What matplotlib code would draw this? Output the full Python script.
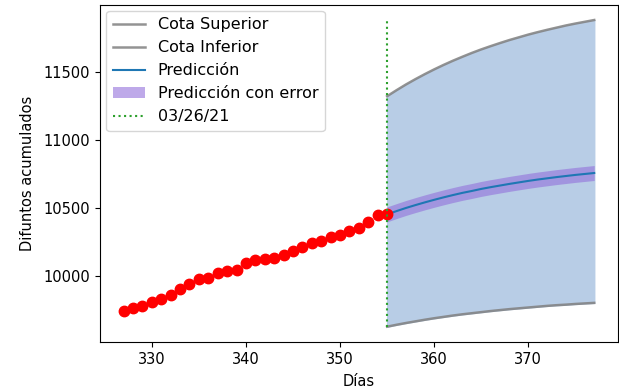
import numpy as np
import matplotlib
matplotlib.use("Agg")
import matplotlib.pyplot as plt

# observed cumulative deaths, days 327..355
dias_obs = np.arange(327, 356)
difuntos = [9747, 9764, 9784, 9808, 9833, 9863, 9909, 9944, 9978, 9990,
            10025, 10037, 10047, 10094, 10116, 10125, 10136, 10158, 10184,
            10217, 10241, 10261, 10287, 10302, 10332, 10357, 10398, 10447,
            10455]

# forecast, days 355..377
dias_pred = np.arange(355, 378)
prediccion = [10455, 10479, 10502, 10523, 10543, 10562, 10580, 10597, 10613,
              10627, 10642, 10655, 10667, 10679, 10690, 10701, 10711, 10720,
              10729, 10737, 10745, 10752, 10759]
cota_sup = [11324, 11368, 11410, 11449, 11486, 11521, 11554, 11585, 11614,
            11642, 11668, 11692, 11715, 11737, 11757, 11777, 11795, 11812,
            11828, 11844, 11858, 11871, 11884]
cota_inf = [9629, 9643, 9656, 9668, 9680, 9691, 9701, 9711, 9720, 9728,
            9736, 9744, 9751, 9758, 9764, 9770, 9776, 9782, 9787, 9791,
            9796, 9800, 9804]
error_pred = 55
dia_corte = 355
etiqueta_corte = "03/26/21"

pred = np.array(prediccion)

plt.rcParams["font.size"] = 10.5
fig, ax = plt.subplots(figsize=(6.19, 3.91), dpi=100)
fig.subplots_adjust(left=0.1616, right=0.998, top=0.988, bottom=0.1253)

ax.plot(dias_pred, cota_sup, color="gray", alpha=0.85, lw=1.8, label="Cota Superior")
ax.plot(dias_pred, cota_inf, color="gray", alpha=0.85, lw=1.8, label="Cota Inferior")
ax.fill_between(dias_pred, cota_inf, cota_sup, color="#b8cde6")
ax.plot(dias_pred, pred, color="#1f77b4", lw=1.5, label="Predicción")
ax.fill_between(dias_pred, pred - error_pred, pred + error_pred,
                color="mediumpurple", alpha=0.6, lw=0, label="Predicción con error")
ax.plot(dias_obs, difuntos, "o", color="red", ms=7.5)
ax.vlines(dia_corte, min(cota_inf), max(cota_sup), colors="tab:green",
          linestyles="dotted", lw=1.5, label=etiqueta_corte)

ax.set_xlabel("Días", labelpad=5)
ax.set_ylabel("Difuntos acumulados", labelpad=6)
ax.legend(loc="upper left", fontsize=11.5, borderaxespad=0.4)

fig.savefig("out.png", dpi=100)
